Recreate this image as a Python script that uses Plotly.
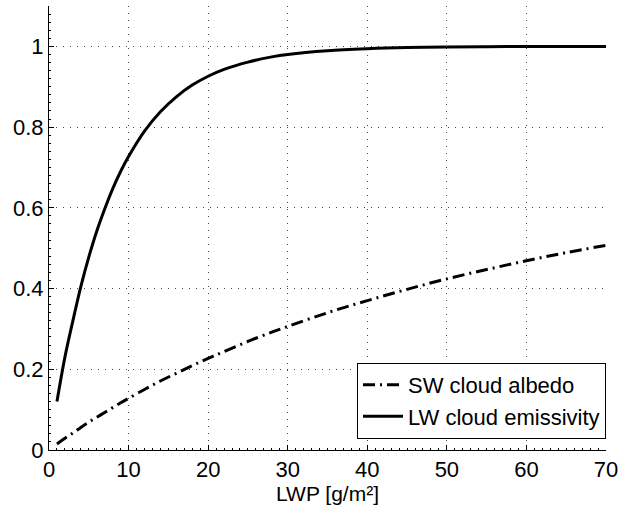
import plotly.graph_objects as go

lwp = [1, 2, 3, 4, 5, 6, 7, 8, 9, 10, 12, 14, 16, 18, 20, 22, 25, 28, 30, 35, 40, 45, 50, 55, 60, 65, 70]
sw_albedo = [0.015, 0.029, 0.042, 0.056, 0.069, 0.081, 0.093, 0.105, 0.117, 0.128, 0.150, 0.171, 0.190, 0.209,
             0.227, 0.244, 0.269, 0.292, 0.306, 0.340, 0.370, 0.398, 0.424, 0.447, 0.469, 0.489, 0.507]
lw_emiss = [0.12, 0.23, 0.32, 0.405, 0.478, 0.542, 0.597, 0.647, 0.690, 0.727, 0.790, 0.838, 0.875, 0.904,
            0.926, 0.943, 0.961, 0.974, 0.980, 0.989, 0.994, 0.997, 0.9985, 0.9992, 0.9996, 0.9998, 0.9999]

x_ticks = [0, 10, 20, 30, 40, 50, 60, 70]
y_ticks = [0, 0.2, 0.4, 0.6, 0.8, 1]
y_tick_text = ["0", "0.2", "0.4", "0.6", "0.8", "1"]

fig = go.Figure()
fig.add_trace(go.Scatter(x=lwp, y=sw_albedo, mode="lines", name="SW cloud albedo",
                         line=dict(color="black", width=3, dash="12px,5px,2px,5px"), line_shape="spline"))
fig.add_trace(go.Scatter(x=lwp, y=lw_emiss, mode="lines", name="LW cloud emissivity",
                         line=dict(color="black", width=3), line_shape="spline"))

fam = "Liberation Sans, Arial, Helvetica, sans-serif"
font = dict(family=fam, size=22, color="black")
fig.update_layout(
    width=624, height=506,
    margin=dict(l=49, r=12, t=6, b=56),
    plot_bgcolor="white", paper_bgcolor="white",
    font=font,
    showlegend=True,
    legend=dict(x=1.0, y=0.025, xanchor="right", yanchor="bottom",
                bordercolor="black", borderwidth=1, bgcolor="white",
                font=dict(family=fam, size=22, color="black"),
                tracegroupgap=0, itemwidth=40),
    xaxis=dict(range=[0, 70], tickvals=x_ticks, showgrid=True, gridcolor="#444", griddash="1px,6px", gridwidth=1,
               showline=True, linecolor="black", linewidth=1, ticks="inside", ticklen=5, tickcolor="black",
               zeroline=False, title=dict(text="LWP [g/m²]", standoff=0, font=dict(family=fam, size=21)),
               tickfont=dict(family=fam, size=22), ticklabeloverflow="allow",
               minor=dict(ticks="inside", ticklen=2, dtick=1, tickcolor="black", showgrid=False)),
    yaxis=dict(range=[0, 1.1], tickvals=y_ticks, ticktext=y_tick_text, showgrid=True, gridcolor="#444",
               griddash="1px,6px", gridwidth=1, showline=True, linecolor="black", linewidth=1,
               ticks="inside", ticklen=5, tickcolor="black", zeroline=False,
               tickfont=dict(family=fam, size=22), ticklabeloverflow="allow",
               minor=dict(ticks="inside", ticklen=2, dtick=0.02, tickcolor="black", showgrid=False)),
)
fig.write_html("out.html")
